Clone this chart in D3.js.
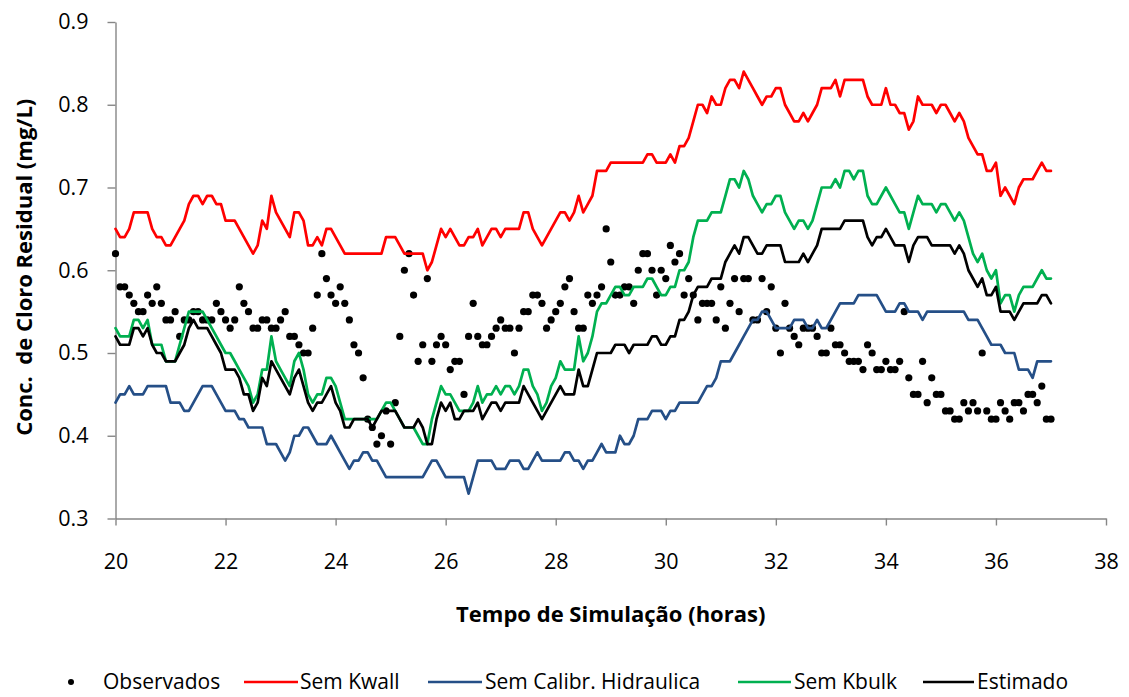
<!DOCTYPE html>
<html>
<head>
<meta charset="utf-8">
<script src="https://cdn.jsdelivr.net/npm/d3@7"></script>
<style>
  html, body { margin: 0; padding: 0; background: #fff; }
  svg { display: block; font-family: "Open Sans", sans-serif; }
</style>
</head>
<body>
<svg id="chart" width="1129" height="697"></svg>
<script>
// Simulation output: one value every 5 minutes from t = 20 h to t = 37 h
const startHour = 20;
const stepMinutes = 5;

const observados = [
  .62,.58,.58,.57,.56,.55,.55,.57,.56,.58,.56,.54,
  .54,.55,.52,.54,.54,.55,.55,.54,.54,.54,.56,.55,
  .54,.53,.54,.58,.56,.55,.53,.53,.54,.54,.53,.53,
  .54,.55,.52,.52,.51,.50,.50,.53,.57,.62,.59,.57,
  .56,.58,.56,.54,.51,.50,.47,.42,.41,.39,.40,.43,
  .39,.44,.52,.60,.62,.57,.49,.51,.59,.49,.51,.52,
  .51,.48,.49,.49,.45,.52,.56,.52,.51,.51,.52,.53,
  .54,.53,.53,.50,.53,.55,.55,.57,.57,.56,.53,.54,
  .55,.56,.58,.59,.55,.53,.53,.57,.56,.57,.58,.65,
  .61,.57,.57,.58,.58,.56,.60,.62,.62,.60,.57,.60,
  .59,.63,.61,.62,.57,.59,.57,.54,.56,.56,.56,.54,
  .58,.53,.56,.59,.55,.59,.59,.54,.54,.59,.55,.58,
  .53,.50,.56,.53,.52,.51,.53,.53,.53,.52,.50,.50,
  .53,.51,.51,.50,.49,.49,.49,.48,.51,.50,.48,.48,
  .49,.48,.48,.49,.55,.47,.45,.45,.49,.44,.47,.45,
  .45,.43,.43,.42,.42,.44,.43,.44,.43,.50,.43,.42,
  .42,.44,.43,.42,.44,.44,.43,.45,.45,.44,.46,.42,
  .42
];

const semKwall = [
  .65,.64,.64,.65,.67,.67,.67,.67,.65,.64,.64,.63,
  .63,.64,.65,.66,.68,.69,.69,.68,.69,.69,.68,.68,
  .66,.66,.66,.65,.64,.63,.62,.63,.66,.65,.69,.67,
  .66,.65,.64,.67,.67,.66,.63,.63,.64,.63,.65,.65,
  .64,.63,.62,.62,.62,.62,.62,.62,.62,.62,.62,.64,
  .64,.64,.63,.62,.62,.62,.62,.62,.60,.61,.63,.65,
  .64,.65,.64,.63,.63,.64,.64,.65,.63,.64,.65,.65,
  .64,.65,.65,.65,.65,.67,.67,.65,.64,.63,.64,.65,
  .66,.67,.67,.66,.67,.69,.67,.68,.69,.72,.72,.72,
  .73,.73,.73,.73,.73,.73,.73,.73,.74,.74,.73,.73,
  .73,.74,.73,.75,.75,.76,.78,.80,.80,.79,.81,.80,
  .80,.82,.83,.83,.82,.84,.83,.82,.81,.80,.81,.81,
  .82,.82,.80,.79,.78,.78,.79,.78,.79,.80,.82,.82,
  .82,.83,.81,.83,.83,.83,.83,.83,.81,.80,.80,.80,
  .82,.80,.80,.79,.79,.77,.78,.81,.80,.80,.80,.79,
  .80,.80,.79,.78,.79,.78,.76,.75,.74,.74,.72,.72,
  .73,.69,.70,.69,.68,.70,.71,.71,.71,.72,.73,.72,
  .72
];

const semCalibrHidraulica = [
  .44,.45,.45,.46,.45,.45,.45,.46,.46,.46,.46,.46,
  .44,.44,.44,.43,.43,.44,.45,.46,.46,.46,.45,.44,
  .43,.43,.43,.42,.42,.41,.41,.41,.41,.39,.39,.39,
  .38,.37,.38,.40,.40,.41,.41,.40,.39,.39,.39,.40,
  .39,.38,.37,.36,.37,.37,.38,.38,.37,.37,.36,.35,
  .35,.35,.35,.35,.35,.35,.35,.35,.36,.37,.37,.36,
  .35,.35,.35,.35,.35,.33,.35,.37,.37,.37,.37,.36,
  .36,.36,.37,.37,.37,.36,.36,.37,.38,.37,.37,.37,
  .37,.37,.38,.38,.37,.37,.36,.37,.37,.38,.39,.38,
  .38,.38,.40,.39,.39,.40,.42,.42,.42,.43,.43,.43,
  .42,.43,.43,.44,.44,.44,.44,.44,.45,.46,.46,.47,
  .49,.49,.49,.50,.51,.52,.53,.54,.54,.55,.55,.54,
  .53,.53,.53,.53,.54,.54,.54,.53,.53,.54,.53,.53,
  .54,.55,.56,.56,.56,.56,.57,.57,.57,.57,.57,.56,
  .55,.55,.55,.56,.56,.55,.55,.55,.54,.55,.55,.55,
  .55,.55,.55,.55,.55,.55,.54,.54,.54,.53,.52,.51,
  .51,.51,.50,.50,.50,.48,.48,.48,.47,.49,.49,.49,
  .49
];

const semKbulk = [
  .53,.52,.52,.52,.54,.54,.53,.54,.51,.51,.51,.49,
  .49,.49,.51,.53,.55,.55,.55,.55,.54,.53,.52,.51,
  .50,.50,.49,.48,.47,.46,.44,.45,.48,.48,.52,.49,
  .48,.47,.46,.49,.50,.48,.45,.44,.45,.45,.47,.47,
  .46,.44,.42,.42,.42,.42,.42,.42,.42,.42,.43,.44,
  .44,.43,.42,.41,.41,.41,.40,.39,.39,.42,.44,.46,
  .45,.45,.44,.43,.43,.43,.44,.46,.44,.45,.45,.46,
  .45,.46,.46,.45,.46,.48,.48,.46,.45,.43,.44,.46,
  .47,.49,.48,.48,.48,.52,.49,.50,.52,.55,.56,.56,
  .57,.58,.58,.57,.57,.58,.58,.58,.59,.59,.58,.57,
  .57,.58,.58,.60,.60,.61,.64,.66,.66,.66,.67,.67,
  .67,.69,.71,.71,.70,.72,.71,.69,.68,.67,.68,.68,
  .69,.69,.67,.66,.65,.66,.66,.65,.66,.68,.70,.70,
  .70,.71,.70,.72,.72,.71,.72,.72,.69,.68,.68,.69,
  .70,.69,.68,.67,.67,.65,.67,.69,.68,.68,.68,.67,
  .68,.68,.67,.66,.67,.66,.64,.62,.61,.62,.60,.59,
  .60,.56,.57,.57,.55,.57,.58,.58,.58,.59,.60,.59,
  .59
];

const estimado = [
  .52,.51,.51,.51,.53,.53,.52,.53,.51,.50,.50,.49,
  .49,.49,.50,.51,.53,.54,.53,.53,.53,.52,.51,.50,
  .48,.48,.48,.47,.45,.45,.43,.44,.47,.46,.49,.48,
  .47,.46,.45,.47,.48,.46,.44,.43,.44,.44,.45,.46,
  .44,.43,.41,.41,.42,.42,.42,.42,.41,.42,.43,.43,
  .43,.43,.42,.41,.41,.41,.42,.41,.39,.39,.42,.44,
  .43,.44,.42,.42,.43,.43,.43,.44,.42,.43,.44,.44,
  .43,.44,.44,.44,.44,.46,.45,.44,.43,.42,.43,.44,
  .45,.46,.45,.45,.45,.48,.46,.46,.48,.50,.50,.50,
  .50,.51,.51,.51,.50,.51,.51,.51,.51,.52,.52,.51,
  .51,.52,.52,.54,.54,.55,.57,.58,.58,.58,.59,.59,
  .59,.61,.62,.63,.62,.64,.64,.63,.62,.62,.63,.63,
  .63,.63,.61,.61,.61,.61,.62,.61,.62,.63,.65,.65,
  .65,.65,.65,.66,.66,.66,.66,.66,.64,.63,.64,.64,
  .65,.64,.63,.63,.63,.61,.63,.64,.64,.64,.63,.63,
  .63,.63,.63,.62,.63,.62,.60,.59,.58,.59,.57,.57,
  .58,.55,.55,.55,.54,.55,.56,.56,.56,.56,.57,.57,
  .56
];

const xTicks = [20, 22, 24, 26, 28, 30, 32, 34, 36, 38];
const yTicks = [0.3, 0.4, 0.5, 0.6, 0.7, 0.8, 0.9];

const lineSeries = [
  { name: "Sem Kwall", values: semKwall, color: "#ff0000" },
  { name: "Sem Calibr. Hidraulica", values: semCalibrHidraulica, color: "#254f87" },
  { name: "Sem Kbulk", values: semKbulk, color: "#00b050" },
  { name: "Estimado", values: estimado, color: "#000000" }
];

const hourAt = i => startHour + i * stepMinutes / 60;

const svg = d3.select("#chart");
const axisColor = "#868686";
const fontFamily = "'Open Sans', sans-serif";

const x = d3.scaleLinear().domain([20, 38]).range([115.5, 1106]);
const y = d3.scaleLinear().domain([0.3, 0.9]).range([518.5, 22]);

// Axes
const yAxis = svg.append("g")
  .attr("transform", `translate(${x.range()[0]},0)`)
  .call(d3.axisLeft(y).tickValues(yTicks).tickFormat(d3.format(".1f"))
    .tickSize(8).tickSizeOuter(0).tickPadding(19));

const xAxis = svg.append("g")
  .attr("transform", `translate(0,${y.range()[0]})`)
  .call(d3.axisBottom(x).tickValues(xTicks).tickFormat(d3.format("d"))
    .tickSize(7).tickSizeOuter(0).tickPadding(28));

[yAxis, xAxis].forEach(g => {
  g.select(".domain").attr("stroke", axisColor).attr("stroke-width", 1.4);
  g.selectAll(".tick line").attr("stroke", axisColor).attr("stroke-width", 1.4);
  g.selectAll(".tick text")
    .attr("fill", "#000")
    .style("font-family", fontFamily)
    .style("font-size", "21.5px");
});

// Observed values (drawn first, lines over them)
svg.append("g")
  .selectAll("circle")
  .data(observados)
  .join("circle")
  .attr("cx", (d, i) => x(hourAt(i)))
  .attr("cy", d => y(d))
  .attr("r", 3.6)
  .attr("fill", "#000");

// Simulated series
const line = d3.line()
  .x((d, i) => x(hourAt(i)))
  .y(d => y(d));

svg.append("g")
  .selectAll("path")
  .data(lineSeries)
  .join("path")
  .attr("d", s => line(s.values))
  .attr("fill", "none")
  .attr("stroke", s => s.color)
  .attr("stroke-width", 2.7)
  .attr("stroke-linejoin", "round")
  .attr("stroke-linecap", "round");

// Axis titles
svg.append("text")
  .attr("x", (x.range()[0] + x.range()[1]) / 2)
  .attr("y", 622)
  .attr("text-anchor", "middle")
  .style("font-family", fontFamily)
  .style("font-size", "22px")
  .style("font-weight", "bold")
  .text("Tempo de Simulação (horas)");

svg.append("text")
  .attr("transform", `translate(32,${(y.range()[0] + y.range()[1]) / 2 - 3}) rotate(-90)`)
  .attr("text-anchor", "middle")
  .style("font-family", fontFamily)
  .style("font-size", "22px")
  .style("font-weight", "bold")
  .style("white-space", "pre")
  .text("Conc.  de Cloro Residual (mg/L)");

// Legend
const legendY = 682;
const legend = svg.append("g")
  .style("font-family", fontFamily)
  .style("font-size", "21px");

legend.append("circle")
  .attr("cx", 71).attr("cy", legendY).attr("r", 3).attr("fill", "#000");
legend.append("text")
  .attr("x", 103).attr("y", legendY).attr("dy", "0.35em")
  .text("Observados");

const legendSlots = [
  { x0: 244, x1: 298, tx: 300 },
  { x0: 428, x1: 482, tx: 485 },
  { x0: 738, x1: 791, tx: 794 },
  { x0: 923, x1: 974, tx: 977 }
];
lineSeries.forEach((s, k) => {
  const slot = legendSlots[k];
  legend.append("line")
    .attr("x1", slot.x0).attr("x2", slot.x1)
    .attr("y1", legendY).attr("y2", legendY)
    .attr("stroke", s.color).attr("stroke-width", 2.7);
  legend.append("text")
    .attr("x", slot.tx).attr("y", legendY).attr("dy", "0.35em")
    .text(s.name);
});
</script>
</body>
</html>
